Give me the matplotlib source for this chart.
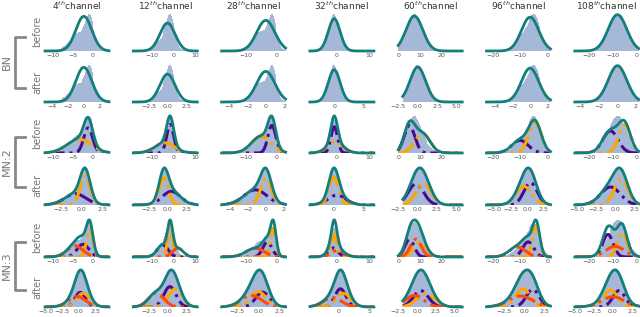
import numpy as np
import matplotlib.pyplot as plt

channels = [4, 12, 28, 32, 60, 96, 108]

# x range of the raw ("before") activations per channel
xlim_before = [(-12, 4), (-18.5, 11), (-18, 3), (-8, 11.5), (-0.2, 29.5), (-22.3, 1.2), (-26, 1)]

# shape of the raw histograms, as (mean, std, weight) pieces
hist_before = [
    [(-0.8, 1.0, 0.4), (-3.5, 2.3, 0.6)],
    [(-1.5, 1.8, 0.5), (-4.0, 4.0, 0.5)],
    [(-1.3, 1.2, 0.35), (-4.8, 3.0, 0.65)],
    [(-0.9, 1.2, 0.55), (0.0, 2.3, 0.45)],
    [(7.0, 3.2, 0.6), (8.5, 4.5, 0.4)],
    [(-4.5, 2.0, 0.5), (-8.0, 3.2, 0.5)],
    [(-7.5, 3.5, 0.6), (-9.0, 4.2, 0.4)],
]

# single gaussian used by BN: (mean, std)
bn_fit = [(-2.3, 2.0), (-2.75, 3.5), (-3.5, 3.0), (-0.6, 1.8), (7.3, 3.9), (-6.3, 3.2), (-8.0, 3.9)]

# MN:2 components, (purple, orange)
mn2_before = [
    [(-1.2, 1.1, 0.4), (-3.5, 3.0, 0.6)],
    [(-1.5, 1.6, 0.5), (-4.0, 4.5, 0.5)],
    [(-1.5, 1.3, 0.4), (-5.0, 3.2, 0.6)],
    [(-0.6, 1.0, 0.5), (-0.3, 2.4, 0.5)],
    [(5.0, 2.5, 0.5), (11.0, 3.5, 0.5)],
    [(-10.0, 3.0, 0.35), (-4.5, 2.3, 0.65)],
    [(-11.0, 3.2, 0.5), (-5.0, 2.5, 0.5)],
]
mn2_after = [
    [(-0.8, 1.3, 0.45), (0.4, 0.6, 0.55)],
    [(0.5, 1.2, 0.5), (-0.5, 0.6, 0.5)],
    [(-1.2, 1.3, 0.55), (0.0, 0.6, 0.45)],
    [(0.5, 1.5, 0.4), (0.0, 0.8, 0.6)],
    [(-0.2, 1.0, 0.5), (0.8, 1.0, 0.5)],
    [(0.5, 1.0, 0.5), (-0.5, 1.2, 0.5)],
    [(-0.6, 1.3, 0.5), (0.8, 0.9, 0.5)],
]
mn2_after_xlim = [(-4.5, 3.3), (-4.5, 3.9), (-5.0, 2.2), (-4.0, 6.7), (-1.9, 5.8), (-6.1, 3.5), (-5.25, 3.1)]

# MN:3 components, (purple, orange, red)
mn3_before = [
    [(-2.5, 1.5, 0.3), (-0.8, 0.8, 0.35), (-4.5, 2.0, 0.35)],
    [(-5.0, 2.5, 0.35), (-1.5, 1.2, 0.4), (2.0, 2.5, 0.25)],
    [(-3.0, 1.5, 0.3), (-1.0, 0.9, 0.35), (-7.0, 3.0, 0.35)],
    [(-1.0, 1.5, 0.3), (-0.6, 0.8, 0.4), (0.5, 2.0, 0.3)],
    [(5.0, 2.2, 0.3), (10.0, 3.0, 0.35), (8.0, 2.5, 0.35)],
    [(-7.0, 2.0, 0.3), (-4.0, 1.3, 0.4), (-11.0, 3.0, 0.3)],
    [(-12.0, 2.2, 0.35), (-6.0, 2.0, 0.35), (-9.0, 4.0, 0.3)],
]
mn3_after = [
    [(0.2, 0.8, 0.3), (0.6, 1.0, 0.35), (-0.3, 1.3, 0.35)],
    [(0.3, 0.8, 0.35), (1.0, 0.9, 0.35), (-1.5, 1.0, 0.3)],
    [(0.5, 0.8, 0.3), (0.0, 0.9, 0.35), (-0.8, 1.2, 0.35)],
    [(0.3, 0.9, 0.35), (0.8, 1.2, 0.35), (-1.0, 1.5, 0.3)],
    [(0.5, 1.0, 0.35), (1.2, 1.2, 0.35), (-0.3, 1.2, 0.3)],
    [(1.0, 0.8, 0.3), (-0.2, 0.9, 0.35), (-0.5, 1.5, 0.35)],
    [(0.8, 0.8, 0.3), (-0.3, 0.9, 0.35), (0.0, 1.5, 0.35)],
]
mn3_after_xlim = [(-5.1, 4.5), (-4.5, 3.9), (-4.3, 3.2), (-4.7, 5.8), (-1.9, 6.0), (-4.7, 3.2), (-5.0, 3.4)]

ticks_before = [[-10, -5, 0], [-10, 0, 10], [-10, 0], [0, 10], [0, 10, 20], [-20, -10, 0], [-20, -10, 0]]
ticks_bn_after = [[-4, -2, 0, 2], [-2.5, 0, 2.5], [-4, -2, 0, 2], [0, 5], [-2.5, 0, 2.5, 5], [-4, -2, 0, 2], [-4, -2, 0, 2]]
ticks_mn2_after = [[-2.5, 0, 2.5], [-2.5, 0, 2.5], [-4, -2, 0, 2], [0, 5], [-2.5, 0, 2.5, 5], [-5, -2.5, 0, 2.5], [-5, -2.5, 0, 2.5]]
ticks_mn3_after = [[-5, -2.5, 0, 2.5], [-2.5, 0, 2.5], [-2.5, 0, 2.5], [0, 5], [-2.5, 0, 2.5, 5], [-2.5, 0, 2.5], [-5, -2.5, 0, 2.5]]

TEAL = '#137e7a'
HIST = '#4c72b0'
comp_colors = ['#4b0a8c', '#ffa500', '#ff4a0a']


def gauss(x, mu, sd, w):
    return w * np.exp(-0.5 * ((x - mu) / sd) ** 2) / (sd * np.sqrt(2 * np.pi))


def mix(x, comps):
    return sum(gauss(x, *c) for c in comps)


fig = plt.figure(figsize=(6.4, 3.17), dpi=100)
W, H = 640, 317
baselines = [51, 102, 153, 205, 257, 307]


def panel(row, col, xlim, hist_comps, comps, ticks, single=None):
    x0 = (45 + col * 88.3) / W
    ax = fig.add_axes([x0, (H - baselines[row]) / H, 64 / W, 39 / H])
    edges = np.linspace(xlim[0], xlim[1], 71)
    centers = (edges[:-1] + edges[1:]) / 2
    heights = mix(centers, hist_comps)
    ax.bar(centers, heights, width=edges[1] - edges[0], color=HIST, alpha=0.5, lw=0)
    xs = np.linspace(xlim[0], xlim[1], 300)
    if single is not None:
        total = gauss(xs, single[0], single[1], 1.0)
    else:
        total = mix(xs, comps)
        for c, color in zip(comps, comp_colors):
            ax.plot(xs, gauss(xs, *c), color=color, lw=2.2, ls='-.')
    ax.plot(xs, total, color=TEAL, lw=2, clip_on=False)
    ax.set_xlim(xlim)
    ax.set_ylim(0, 1.05 * max(heights.max(), total.max()))
    ax.set_xticks(ticks)
    ax.set_yticks([])
    ax.tick_params(axis='x', labelsize=4.5, colors='#555555', length=0, pad=1.5)
    for s in ax.spines.values():
        s.set_visible(False)
    if row == 0:
        fig.text(x0 + 32 / W, (H - 6) / H, f'{channels[col]}$^{{th}}$channel',
                 ha='center', va='center', fontsize=6.5, color='#333333')
    if col == 0:
        ax.set_ylabel('before' if row % 2 == 0 else 'after', fontsize=7, color='#777777', labelpad=2)
    return ax


for j in range(7):
    m, s = bn_fit[j]
    # BN
    panel(0, j, xlim_before[j], hist_before[j], None, ticks_before[j], single=(m, s))
    xa = ((xlim_before[j][0] - m) / s, (xlim_before[j][1] - m) / s)
    hist_after = [((mu - m) / s, sd / s, w) for mu, sd, w in hist_before[j]]
    panel(1, j, xa, hist_after, None, ticks_bn_after[j], single=(0.0, 1.0))
    # MN:2
    panel(2, j, xlim_before[j], hist_before[j], mn2_before[j], ticks_before[j])
    panel(3, j, mn2_after_xlim[j], mn2_after[j], mn2_after[j], ticks_mn2_after[j])
    # MN:3
    panel(4, j, xlim_before[j], hist_before[j], mn3_before[j], ticks_before[j])
    panel(5, j, mn3_after_xlim[j], mn3_after[j], mn3_after[j], ticks_mn3_after[j])

# group brackets and labels
groups = [('BN', 37, 88), ('MN:2', 137, 187), ('MN:3', 242, 290)]
for name, top, bot in groups:
    xs = np.array([25, 15, 15, 25]) / W
    ys = (H - np.array([top, top, bot, bot])) / H
    fig.add_artist(plt.Line2D(xs, ys, color='#888888', lw=2))
    fig.text(7 / W, (H - (top + bot) / 2) / H, name, rotation=90, ha='center', va='center',
             fontsize=8, color='#777777')

fig.savefig('out.png', dpi=100)
